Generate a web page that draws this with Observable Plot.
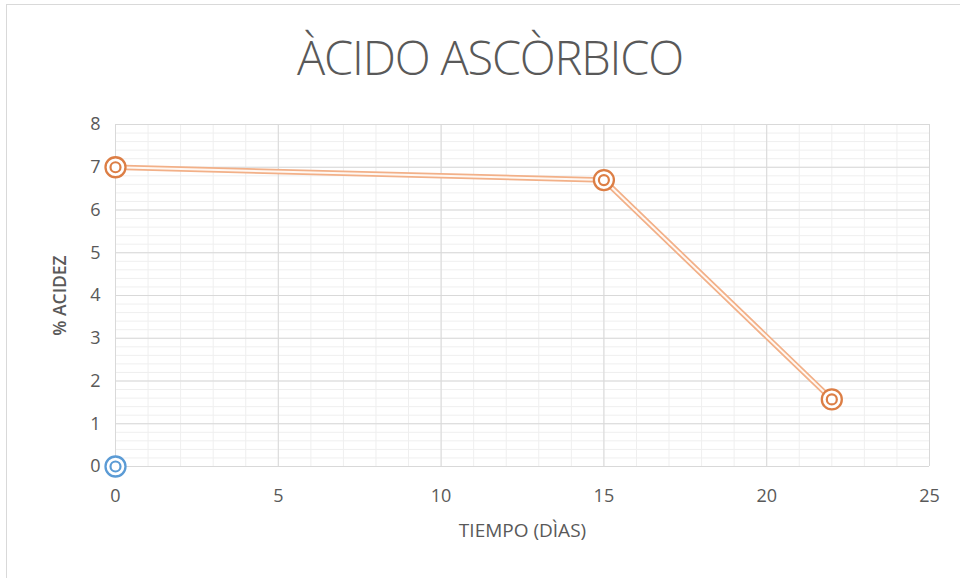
<!DOCTYPE html>
<html>
<head>
<meta charset="utf-8">
<script src="https://cdn.jsdelivr.net/npm/d3@7"></script>
<script src="https://cdn.jsdelivr.net/npm/@observablehq/plot@0.6"></script>
<style>
  html, body { margin: 0; padding: 0; background: #fff; }
  #wrap { position: relative; width: 960px; height: 578px; overflow: hidden; }
  #frame { position: absolute; left: 6px; top: 4px; width: 1000px; height: 1000px;
           border: 1px solid #d9d9d9; box-sizing: border-box; }
  #title { position: absolute; left: 0; width: 980px; top: 25px; text-align: center;
           font-family: "Open Sans", sans-serif; font-weight: 300; font-size: 47px;
           color: #595959; letter-spacing: -1.2px; }
  #chart { position: absolute; left: 0; top: 0; }
</style>
</head>
<body>
<div id="wrap">
  <div id="frame"></div>
  <div id="chart"></div>
  <div id="title">ÀCIDO ASCÒRBICO</div>
</div>
<script>
// Ascorbic acid: acidity (%) over storage time (days)
const dias = [0, 15, 22];
const acidez = [7, 6.7, 1.57];
// second series: a single point at the origin
const diasB = [0];
const acidezB = [0];

const xTicks = [0, 5, 10, 15, 20, 25];
const yTicks = [0, 1, 2, 3, 4, 5, 6, 7, 8];

const serieA = dias.map((d, i) => ({x: d, y: acidez[i]}));
const serieB = diasB.map((d, i) => ({x: d, y: acidezB[i]}));

const minorX = d3.range(0, 26, 1);
const minorY = d3.range(0, 8.01, 0.2);

const orange = "#DC7E45";
const lineOrange = "#F2B088";
const blue = "#5B9BD5";

const chart = Plot.plot({
  width: 960,
  height: 578,
  marginLeft: 115,
  marginRight: 31,
  marginTop: 124,
  marginBottom: 112,
  style: {fontFamily: "Open Sans, sans-serif", fontSize: "18px", color: "#595959", background: "transparent"},
  x: {domain: [0, 25], ticks: xTicks, tickSize: 0, tickPadding: 22, label: null},
  y: {domain: [0, 8], ticks: yTicks, tickSize: 0, tickPadding: 14, label: null},
  marks: [
    Plot.ruleX(minorX, {stroke: "#efefef", strokeWidth: 1}),
    Plot.ruleY(minorY, {stroke: "#efefef", strokeWidth: 1}),
    Plot.ruleX(xTicks, {stroke: "#d9d9d9", strokeWidth: 1}),
    Plot.ruleY(yTicks, {stroke: "#d9d9d9", strokeWidth: 1}),
    Plot.axisX({ticks: xTicks, tickSize: 0, tickPadding: 23, fill: "#595959", fontSize: 18}),
    Plot.axisY({ticks: yTicks, tickSize: 0, tickPadding: 15, fill: "#595959", fontSize: 18}),
    // compound (double) line
    Plot.line(serieA, {x: "x", y: "y", stroke: lineOrange, strokeWidth: 5.5}),
    Plot.line(serieA, {x: "x", y: "y", stroke: "#fff8f3", strokeWidth: 2}),
    // double-ring markers
    Plot.dot(serieA, {x: "x", y: "y", r: 10, fill: "white", stroke: orange, strokeWidth: 2.3}),
    Plot.dot(serieA, {x: "x", y: "y", r: 5, fill: "white", stroke: orange, strokeWidth: 2.2}),
    Plot.dot(serieB, {x: "x", y: "y", r: 10, fill: "white", stroke: blue, strokeWidth: 2.3}),
    Plot.dot(serieB, {x: "x", y: "y", r: 5, fill: "white", stroke: blue, strokeWidth: 2.2}),
    // axis titles
    Plot.text(["TIEMPO (DÌAS)"], {frameAnchor: "bottom", dy: 70, text: d => d, fill: "#595959", fontSize: 19, letterSpacing: "-0.3px"}),
    Plot.text(["% ACIDEZ"], {frameAnchor: "left", textAnchor: "middle", dx: -55, rotate: -90, text: d => d, fill: "#595959", fontSize: 17.5, fontWeight: 600})
  ]
});
document.getElementById("chart").appendChild(chart);
</script>
</body>
</html>
